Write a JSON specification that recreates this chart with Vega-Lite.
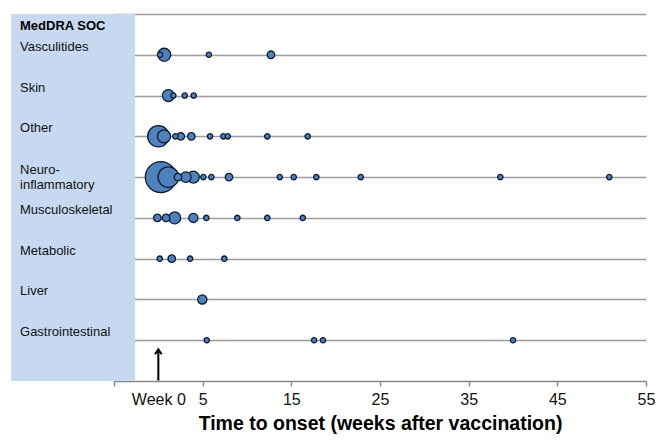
{
  "$schema": "https://vega.github.io/schema/vega-lite/v6.json",
  "width": 532,
  "height": 367,
  "autosize": {"type": "none"},
  "padding": {"left": 114, "top": 14, "right": 16, "bottom": 61},
  "background": "white",
  "config": {"view": {"stroke": null}, "font": "Liberation Sans"},
  "layer": [
    {
      "data": {"values": [{"panel": "MedDRA SOC"}]},
      "mark": {"type": "rect", "color": "#c6d9f1"},
      "encoding": {
        "x": {"datum": -16.6, "type": "quantitative", "scale": {"domain": [-5, 55], "nice": false, "zero": false}},
        "x2": {"datum": -2.63}
      }
    },
    {
      "data": {"values": [
        {"soc": "Vasculitides", "weeks": 0.19, "n": 1},
        {"soc": "Vasculitides", "weeks": 0.67, "n": 6},
        {"soc": "Vasculitides", "weeks": 5.7, "n": 1},
        {"soc": "Vasculitides", "weeks": 12.7, "n": 2},
        {"soc": "Skin", "weeks": 1.13, "n": 5},
        {"soc": "Skin", "weeks": 1.69, "n": 1},
        {"soc": "Skin", "weeks": 2.98, "n": 1},
        {"soc": "Skin", "weeks": 3.99, "n": 1},
        {"soc": "Other", "weeks": 0.0, "n": 16},
        {"soc": "Other", "weeks": 0.64, "n": 6},
        {"soc": "Other", "weeks": 1.92, "n": 1},
        {"soc": "Other", "weeks": 2.53, "n": 2},
        {"soc": "Other", "weeks": 3.72, "n": 2},
        {"soc": "Other", "weeks": 5.83, "n": 1},
        {"soc": "Other", "weeks": 7.33, "n": 1},
        {"soc": "Other", "weeks": 7.83, "n": 1},
        {"soc": "Other", "weeks": 12.29, "n": 1},
        {"soc": "Other", "weeks": 16.85, "n": 1},
        {"soc": "Neuro-inflammatory", "weeks": 0.28, "n": 34},
        {"soc": "Neuro-inflammatory", "weeks": 1.13, "n": 15},
        {"soc": "Neuro-inflammatory", "weeks": 2.22, "n": 2},
        {"soc": "Neuro-inflammatory", "weeks": 3.1, "n": 4},
        {"soc": "Neuro-inflammatory", "weeks": 3.95, "n": 5},
        {"soc": "Neuro-inflammatory", "weeks": 5.08, "n": 1},
        {"soc": "Neuro-inflammatory", "weeks": 5.98, "n": 1},
        {"soc": "Neuro-inflammatory", "weeks": 7.97, "n": 2},
        {"soc": "Neuro-inflammatory", "weeks": 13.69, "n": 1},
        {"soc": "Neuro-inflammatory", "weeks": 15.27, "n": 1},
        {"soc": "Neuro-inflammatory", "weeks": 17.82, "n": 1},
        {"soc": "Neuro-inflammatory", "weeks": 22.83, "n": 1},
        {"soc": "Neuro-inflammatory", "weeks": 38.57, "n": 1},
        {"soc": "Neuro-inflammatory", "weeks": 50.86, "n": 1},
        {"soc": "Musculoskeletal", "weeks": -0.11, "n": 2},
        {"soc": "Musculoskeletal", "weeks": 0.87, "n": 2},
        {"soc": "Musculoskeletal", "weeks": 1.85, "n": 5},
        {"soc": "Musculoskeletal", "weeks": 3.95, "n": 3},
        {"soc": "Musculoskeletal", "weeks": 5.41, "n": 1},
        {"soc": "Musculoskeletal", "weeks": 8.91, "n": 1},
        {"soc": "Musculoskeletal", "weeks": 12.29, "n": 1},
        {"soc": "Musculoskeletal", "weeks": 16.29, "n": 1},
        {"soc": "Metabolic", "weeks": 0.16, "n": 1},
        {"soc": "Metabolic", "weeks": 1.51, "n": 2},
        {"soc": "Metabolic", "weeks": 3.58, "n": 1},
        {"soc": "Metabolic", "weeks": 7.44, "n": 1},
        {"soc": "Liver", "weeks": 4.96, "n": 3},
        {"soc": "Gastrointestinal", "weeks": 5.46, "n": 1},
        {"soc": "Gastrointestinal", "weeks": 17.56, "n": 1},
        {"soc": "Gastrointestinal", "weeks": 18.57, "n": 1},
        {"soc": "Gastrointestinal", "weeks": 40.0, "n": 1}
      ]},
      "mark": {"type": "point", "shape": "circle", "filled": true, "fill": "#4f81bd", "stroke": "#0f1c30", "strokeWidth": 1.3, "opacity": 1},
      "encoding": {
        "x": {
          "field": "weeks", "type": "quantitative",
          "scale": {"domain": [-5, 55], "nice": false, "zero": false},
          "axis": {
            "title": "Time to onset (weeks after vaccination)",
            "values": [-5, 0, 5, 15, 25, 35, 45, 55],
            "labelExpr": "datum.value == -5 ? '' : datum.value == 0 ? 'Week 0' : datum.label",
            "grid": false,
            "tickSize": 5, "tickColor": "#888888", "tickWidth": 1.5,
            "tickOpacity": {"condition": {"test": "datum.value == 0", "value": 0}, "value": 1},
            "domainColor": "#888888", "domainWidth": 1.5,
            "labelFontSize": 16, "labelColor": "#111111", "labelPadding": 5,
            "labelOverlap": false, "labelFlush": false, "labelBound": false,
            "titleFontSize": 19.5, "titleFontWeight": "bold", "titleColor": "#000000",
            "titleBaseline": "alphabetic", "titleY": 48
          }
        },
        "y": {
          "field": "soc", "type": "nominal",
          "scale": {"type": "point", "padding": 0, "domain": ["_top", "Vasculitides", "Skin", "Other", "Neuro-inflammatory", "Musculoskeletal", "Metabolic", "Liver", "Gastrointestinal", "_bottom"]},
          "axis": {
            "title": null,
            "values": ["_top", "Vasculitides", "Skin", "Other", "Neuro-inflammatory", "Musculoskeletal", "Metabolic", "Liver", "Gastrointestinal"],
            "grid": true, "gridColor": "#9d9d9d", "gridWidth": 1.5,
            "domain": false, "ticks": false, "labels": false
          }
        },
        "size": {"field": "n", "type": "quantitative", "scale": {"domain": [0, 34], "range": [0, 962]}, "legend": null},
        "order": {"field": "n", "sort": "descending"}
      }
    },
    {
      "data": {"values": [
        {"soc": "Vasculitides", "label": "Vasculitides"},
        {"soc": "Skin", "label": "Skin"},
        {"soc": "Other", "label": "Other"},
        {"soc": "Musculoskeletal", "label": "Musculoskeletal"},
        {"soc": "Metabolic", "label": "Metabolic"},
        {"soc": "Liver", "label": "Liver"},
        {"soc": "Gastrointestinal", "label": "Gastrointestinal"}
      ]},
      "mark": {"type": "text", "align": "left", "baseline": "middle", "dy": -8, "fontSize": 13, "color": "#111111"},
      "encoding": {
        "x": {"datum": -15.6, "type": "quantitative"},
        "y": {"field": "soc", "type": "nominal"},
        "text": {"field": "label"}
      }
    },
    {
      "data": {"values": [{"soc": "Neuro-inflammatory", "label": "Neuro-\ninflammatory"}]},
      "mark": {"type": "text", "align": "left", "baseline": "middle", "dy": -7.5, "fontSize": 13, "color": "#111111", "lineBreak": "\n", "lineHeight": 15},
      "encoding": {
        "x": {"datum": -15.6, "type": "quantitative"},
        "y": {"field": "soc", "type": "nominal"},
        "text": {"field": "label"}
      }
    },
    {
      "data": {"values": [{"soc": "_top", "label": "MedDRA SOC"}]},
      "mark": {"type": "text", "align": "left", "baseline": "middle", "dy": 12, "fontSize": 13, "fontWeight": "bold", "color": "#000000"},
      "encoding": {
        "x": {"datum": -15.6, "type": "quantitative"},
        "y": {"field": "soc", "type": "nominal"},
        "text": {"field": "label"}
      }
    },
    {
      "data": {"values": [{"label": "vaccination"}]},
      "mark": {"type": "point", "shape": "M0,4.04L0,0.9M-0.33,1.4L0,0.9L0.33,1.4", "filled": false, "stroke": "#000000", "strokeWidth": 2, "size": 400, "opacity": 1},
      "encoding": {
        "x": {"datum": 0, "type": "quantitative"},
        "y": {"datum": "Gastrointestinal", "type": "nominal"}
      }
    }
  ]
}
